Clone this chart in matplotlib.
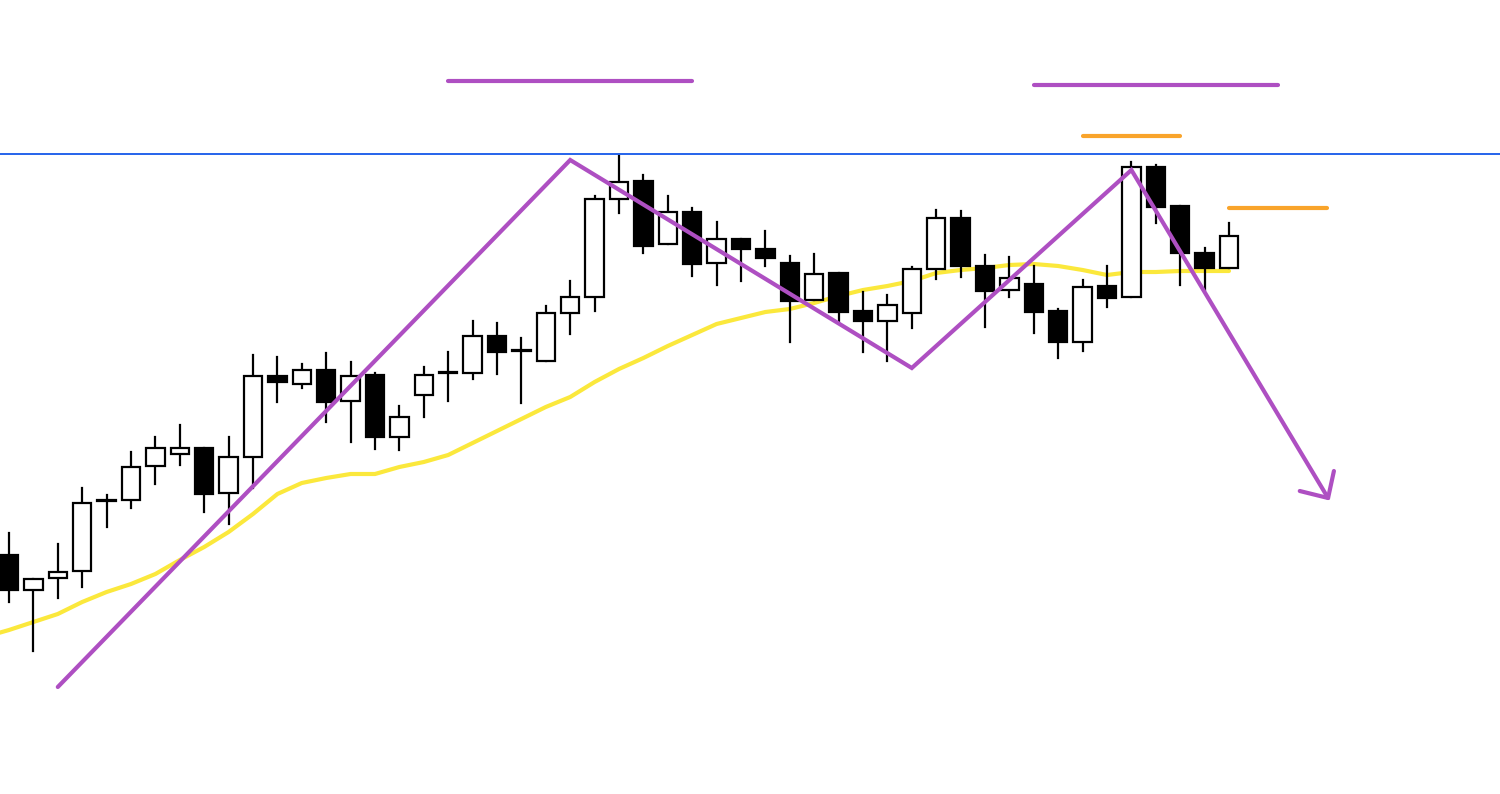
import matplotlib
matplotlib.use("Agg")
import matplotlib.pyplot as plt
from matplotlib.patches import Rectangle

# candle data (price units)
opens  = [239, 204, 216, 223, 293, 294, 328, 340, 346, 301, 337, 418, 410, 424, 393, 419, 357,
          399, 421, 421, 458, 443, 433, 481, 497, 595, 613, 550, 582, 531, 555, 545, 531, 494,
          521, 483, 473, 481, 525, 576, 528, 504, 510, 483, 452, 508, 497, 627, 588, 541, 526]
highs  = [261, 215, 250, 306, 299, 342, 357, 369, 346, 357, 439, 437, 430, 441, 432, 421, 388,
          427, 442, 473, 471, 456, 488, 513, 598, 639, 619, 598, 586, 572, 555, 563, 538, 540,
          521, 502, 499, 527, 584, 583, 539, 537, 528, 485, 514, 528, 632, 629, 588, 546, 571]
lows   = [192, 143, 196, 207, 267, 286, 310, 329, 282, 270, 306, 392, 406, 372, 352, 345, 344,
          377, 393, 415, 420, 391, 433, 460, 483, 581, 541, 550, 518, 509, 513, 528, 452, 494,
          472, 442, 433, 466, 515, 517, 467, 497, 461, 436, 443, 487, 497, 571, 509, 504, 526]
closes = [204, 215, 222, 291, 293, 327, 346, 346, 300, 337, 418, 412, 424, 392, 418, 357, 377,
          419, 421, 458, 442, 443, 481, 497, 595, 612, 548, 582, 530, 555, 545, 536, 493, 520,
          482, 473, 489, 525, 576, 528, 503, 516, 482, 452, 507, 496, 627, 587, 541, 526, 558]
bearish = [1, 0, 0, 0, 1, 0, 0, 0, 1, 0, 0, 1, 0, 1, 0, 1, 0,
           0, 1, 0, 1, 1, 0, 0, 0, 0, 1, 0, 1, 0, 1, 1, 1, 0,
           1, 1, 0, 0, 0, 1, 1, 0, 1, 1, 0, 1, 0, 1, 1, 1, 0]

# moving average, starting one bar before the first visible candle
ma = [157, 164, 172, 180, 192, 202, 210, 220, 234, 247, 262, 280, 300, 311, 316, 320, 320, 327,
      332, 339, 351, 363, 375, 387, 397, 412, 425, 436, 448, 459, 470, 476, 482, 485, 491,
      498, 504, 508, 513, 521, 524, 526, 529, 530, 528, 524, 519, 522, 522, 523, 523, 523]

# drawn trend zigzag (bar index, price)
zig_x = [2, 23, 37, 46, 54.06]
zig_y = [107, 634, 426, 624, 296]
arrow_x = [52.9, 54.06, 54.3]
arrow_y = [303, 296, 323]

resistance = 640
purple_levels = [(18, 28, 713), (42, 52, 709)]
orange_levels = [(44, 48, 658), (50, 54, 586)]

fig = plt.figure(figsize=(15, 7.94), dpi=100)
ax = fig.add_axes([0, 0, 1, 1])

n = len(opens)
idx = list(range(n))
ax.plot(range(-1, n), ma, color="#FBE83C", lw=3, zorder=1, solid_capstyle="round")

w = 0.76
for i in idx:
    lo_b = min(opens[i], closes[i])
    hi_b = max(opens[i], closes[i])
    ax.plot([i, i], [lows[i], highs[i]], color="black", lw=1.6, zorder=2)
    face = "black" if bearish[i] else "white"
    h = max(hi_b - lo_b, 1.5)
    ax.add_patch(Rectangle((i - w / 2, lo_b), w, h, facecolor=face,
                           edgecolor="black", lw=1.6, zorder=3))

ax.axhline(resistance, color="#2563EB", lw=1.4, zorder=4)

for x0, x1, y in purple_levels:
    ax.plot([x0, x1], [y, y], color="#AE4FC2", lw=3, solid_capstyle="round", zorder=5)
for x0, x1, y in orange_levels:
    ax.plot([x0, x1], [y, y], color="#F9A42B", lw=3, solid_capstyle="round", zorder=5)

ax.plot(zig_x, zig_y, color="#AE4FC2", lw=3, solid_capstyle="round",
        solid_joinstyle="miter", zorder=6)
ax.plot(arrow_x, arrow_y, color="#AE4FC2", lw=3, solid_capstyle="round", zorder=6)

ax.set_xlim(-9 / 24.4, (1500 - 9) / 24.4)
ax.set_ylim(0, 794)
ax.axis("off")

fig.savefig("out.png", dpi=100, facecolor="white")
